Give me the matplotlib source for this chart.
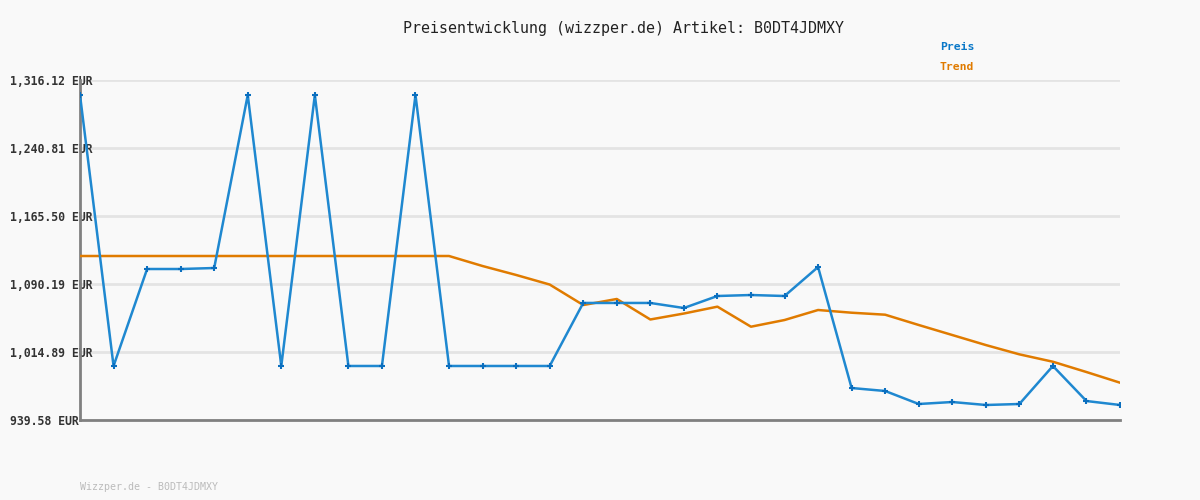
import matplotlib
matplotlib.use("Agg")
import matplotlib.pyplot as plt

# price history
preis = [1299.5, 999.4, 1106.8, 1106.8, 1107.9, 1299.5, 999.4, 1299.5,
         999.4, 999.4, 1299.5, 999.4, 999.4, 999.4, 999.4, 1069.2,
         1069.2, 1069.2, 1063.6, 1076.9, 1078.0, 1076.9, 1109.0, 975.0,
         971.7, 957.3, 959.5, 956.2, 957.3, 999.4, 960.6, 956.2]
trend = [1121.2, 1121.2, 1121.2, 1121.2, 1121.2, 1121.2, 1121.2, 1121.2,
         1121.2, 1121.2, 1121.2, 1121.2, 1110.1, 1100.2, 1089.6, 1066.9,
         1073.6, 1050.9, 1057.5, 1065.1, 1042.9, 1050.3, 1061.4, 1058.4,
         1056.2, 1044.8, 1033.7, 1022.6, 1012.3, 1004.1, 992.7, 980.9]
y_ticks = [939.58, 1014.89, 1090.19, 1165.50, 1240.81, 1316.12]
y_labels = ["939.58 EUR", "1,014.89 EUR", "1,090.19 EUR",
            "1,165.50 EUR", "1,240.81 EUR", "1,316.12 EUR"]

bg = "#f9f9f9"
blue = "#1f88d0"
orange = "#e07b00"
mono = "DejaVu Sans Mono"

fig = plt.figure(figsize=(12, 5), dpi=100, facecolor=bg)
ax = fig.add_axes([80 / 1200, 80 / 500, 1040 / 1200, 340 / 500])
ax.set_facecolor(bg)

x = list(range(len(preis)))
ax.plot(x, trend, color=orange, lw=1.8, zorder=3)
ax.plot(x, preis, color=blue, lw=1.8, zorder=4,
        marker="+", markersize=4, markeredgewidth=1.5, markeredgecolor="#0b6fbf")

ax.set_xlim(0, len(preis) - 1)
ax.set_ylim(y_ticks[0], y_ticks[-1])
ax.set_xticks([])
ax.set_yticks(y_ticks, y_labels)
ax.grid(axis="y", color="#e4e4e4", lw=2, zorder=0)
ax.tick_params(axis="y", length=0, pad=50.4, labelsize=8.3, labelcolor="#333333")
for lab in ax.get_yticklabels():
    lab.set_horizontalalignment("left")
    lab.set_fontfamily(mono)
    lab.set_fontweight("bold")
    lab.set_zorder(10)

for side in ["top", "right"]:
    ax.spines[side].set_visible(False)
for side in ["left", "bottom"]:
    ax.spines[side].set_color("#808080")
    ax.spines[side].set_linewidth(2)

fig.text(0.5196, 1 - 28 / 500, "Preisentwicklung (wizzper.de) Artikel: B0DT4JDMXY",
         ha="center", va="center", fontsize=10.8, family=mono, color="#222222")
fig.text(940 / 1200, 1 - 47 / 500, "Preis", ha="left", va="center",
         fontsize=8.2, family=mono, fontweight="bold", color="#0a78c8")
fig.text(940 / 1200, 1 - 67 / 500, "Trend", ha="left", va="center",
         fontsize=8.2, family=mono, fontweight="bold", color=orange)
fig.text(80 / 1200, 1 - 487 / 500, "Wizzper.de - B0DT4JDMXY", ha="left", va="center",
         fontsize=7.2, family=mono, color="#bbbbbb")

fig.savefig("out.png", dpi=100, facecolor=bg)
